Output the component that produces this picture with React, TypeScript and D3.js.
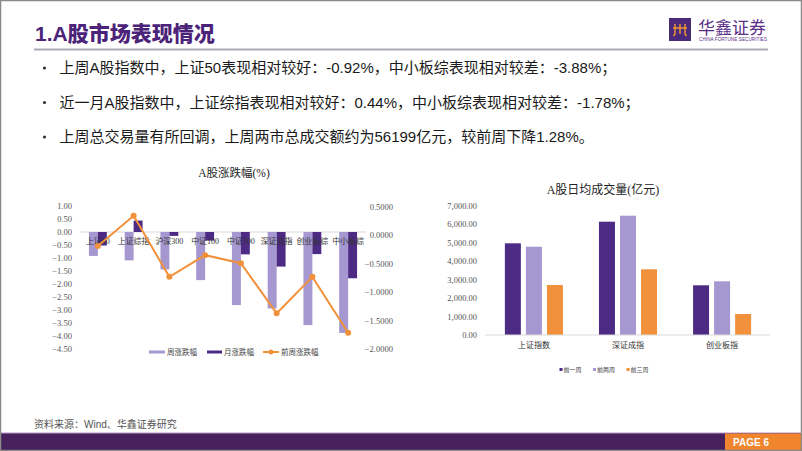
import React from 'react';
import * as d3 from 'd3';

const leftCategories = ['上证50', '上证综指', '沪深300', '中证100', '中证500', '深证成指', '创业板综', '中小板综'];
const weeklyChange = [-0.92, -1.09, -1.44, -1.85, -2.81, -2.94, -3.58, -3.88];
const monthlyChange = [-0.52, 0.44, -0.15, -0.33, -0.86, -1.33, -0.85, -1.78];
const prevWeekChange = [-0.19, 0.34, -0.73, -0.35, -0.49, -1.37, -0.73, -1.71];
const leftAxisTicks = [1, 0.5, 0, -0.5, -1, -1.5, -2, -2.5, -3, -3.5, -4, -4.5];
const rightAxisTicks = [0.5, 0, -0.5, -1, -1.5, -2];
const leftSeriesNames = ['周涨跌幅', '月涨跌幅', '前周涨跌幅'];

const volumeCategories = ['上证指数', '深证成指', '创业板指'];
const volumeWeek1 = [4975, 6148, 2697];
const volumeWeek2 = [4790, 6473, 2914];
const volumeWeek3 = [2713, 3565, 1139];
const volumeTicks = [0, 1000, 2000, 3000, 4000, 5000, 6000, 7000];
const volumeSeriesNames = ['前一周', '前两周', '前三周'];

const bullets = [
  '上周A股指数中，上证50表现相对较好：-0.92%，中小板综表现相对较差：-3.88%；',
  '近一月A股指数中，上证综指表现相对较好：0.44%，中小板综表现相对较差：-1.78%；',
  '上周总交易量有所回调，上周两市总成交额约为56199亿元，较前周下降1.28%。',
];

const DARK = '#4d2b84';
const LIGHT = '#a597cf';
const ORANGE = '#f2913b';
const SERIF = '"Liberation Serif", "DejaVu Serif", "Noto Sans CJK SC", serif';
const SANS = '"Liberation Sans", Arial, "Noto Sans CJK SC", sans-serif';

function LeftChart() {
  const yL = d3.scaleLinear().domain([-4.5, 1]).range([349, 206]);
  const yR = d3.scaleLinear().domain([-2, 0.5]).range([349.3, 206.7]);
  const x = d3.scaleBand<string>().domain(leftCategories).range([80, 366]).paddingInner(0.5).paddingOuter(0.25);
  const x1 = d3.scaleBand<string>().domain(['w', 'm']).range([0, x.bandwidth()]);
  const fmtL = d3.format('.2f');
  const fmtR = d3.format('.4f');
  const line = d3
    .line<number>()
    .x((_, i) => (x(leftCategories[i]) as number) + x.bandwidth() / 2)
    .y((d) => yR(d));
  const barRect = (c: string, key: string, v: number, color: string) => {
    const y0 = yL(0);
    const yv = yL(v);
    return (
      <rect
        key={c + key}
        x={(x(c) as number) + (x1(key) as number)}
        y={Math.min(y0, yv)}
        width={x1.bandwidth()}
        height={Math.abs(yv - y0)}
        fill={color}
      />
    );
  };
  return (
    <g>
      <text x={234} y={177} textAnchor="middle" fontFamily={SERIF} fontSize={11.5} fill="#222">
        A股涨跌幅(%)
      </text>
      {leftAxisTicks.map((t) => (
        <text key={'l' + t} x={72} y={yL(t)} dy="0.35em" textAnchor="end" fontFamily={SERIF} fontSize={8.5} fill="#555">
          {fmtL(t)}
        </text>
      ))}
      {rightAxisTicks.map((t) => (
        <text key={'r' + t} x={393} y={yR(t)} dy="0.35em" textAnchor="end" fontFamily={SERIF} fontSize={8.5} fill="#555">
          {fmtR(t)}
        </text>
      ))}
      <line x1={80} x2={366} y1={yL(0)} y2={yL(0)} stroke="#d9d9d9" strokeWidth={1} />
      {leftCategories.map((c, i) => barRect(c, 'w', weeklyChange[i], LIGHT))}
      {leftCategories.map((c, i) => barRect(c, 'm', monthlyChange[i], DARK))}
      {leftCategories.map((c) => (
        <text key={'c' + c} x={(x(c) as number) + x.bandwidth() / 2} y={241} dy="0.35em" textAnchor="middle" fontFamily={SERIF} fontSize={8} fill="#333">
          {c}
        </text>
      ))}
      <path d={line(prevWeekChange) || ''} fill="none" stroke={ORANGE} strokeWidth={2} />
      {prevWeekChange.map((v, i) => (
        <circle key={'p' + i} cx={(x(leftCategories[i]) as number) + x.bandwidth() / 2} cy={yR(v)} r={3} fill={ORANGE} />
      ))}
      {/* legend */}
      <g fontFamily={SERIF} fontSize={7.5} fill="#444">
        <line x1={149} x2={165} y1={352} y2={352} stroke={LIGHT} strokeWidth={3} />
        <text x={167} y={352} dy="0.35em">{leftSeriesNames[0]}</text>
        <line x1={207} x2={222} y1={352} y2={352} stroke={DARK} strokeWidth={3} />
        <text x={224} y={352} dy="0.35em">{leftSeriesNames[1]}</text>
        <line x1={263} x2={279} y1={352} y2={352} stroke={ORANGE} strokeWidth={2} />
        <circle cx={271} cy={352} r={2.5} fill={ORANGE} />
        <text x={281} y={352} dy="0.35em">{leftSeriesNames[2]}</text>
      </g>
    </g>
  );
}

function RightChart() {
  const y = d3.scaleLinear().domain([0, 7000]).range([335, 206]);
  const x = d3.scaleBand<string>().domain(volumeCategories).range([487, 769]).paddingInner(0.383).paddingOuter(0.19);
  const x1 = d3.scaleBand<string>().domain(volumeSeriesNames).range([0, x.bandwidth()]).paddingInner(0.24);
  const fmt = d3.format(',.2f');
  const series = [volumeWeek1, volumeWeek2, volumeWeek3];
  const colors = [DARK, LIGHT, ORANGE];
  return (
    <g>
      <text x={603} y={194} textAnchor="middle" fontFamily={SERIF} fontSize={12} fill="#222">
        A股日均成交量(亿元)
      </text>
      {volumeTicks.map((t) => (
        <text key={'v' + t} x={477} y={y(t)} dy="0.35em" textAnchor="end" fontFamily={SERIF} fontSize={8.5} fill="#555">
          {fmt(t)}
        </text>
      ))}
      {volumeCategories.map((c, ci) =>
        series.map((s, si) => (
          <rect
            key={c + si}
            x={(x(c) as number) + (x1(volumeSeriesNames[si]) as number)}
            y={y(s[ci])}
            width={x1.bandwidth()}
            height={y(0) - y(s[ci])}
            fill={colors[si]}
          />
        ))
      )}
      <line x1={485} x2={770} y1={y(0)} y2={y(0)} stroke="#d9d9d9" strokeWidth={1} />
      {volumeCategories.map((c) => (
        <text key={'vc' + c} x={(x(c) as number) + x.bandwidth() / 2} y={345} dy="0.35em" textAnchor="middle" fontFamily={SERIF} fontSize={8} fill="#333">
          {c}
        </text>
      ))}
      <g fontFamily={SERIF} fontSize={6} fill="#444">
        {volumeSeriesNames.map((n, i) => (
          <g key={n}>
            <rect x={559.5 + i * 33.5} y={368} width={3} height={3} fill={colors[i]} />
            <text x={563.5 + i * 33.5} y={369.5} dy="0.35em">{n}</text>
          </g>
        ))}
      </g>
    </g>
  );
}

export default function App() {
  return (
    <svg
      width={802}
      height={451}
      viewBox="0 0 802 451"
      style={{ position: 'absolute', left: 0, top: 0, display: 'block', background: '#fff' }}
    >
      <rect x={0} y={0} width={802} height={451} fill="#fff" />
      {/* header */}
      <text x={35} y={41} fontFamily={SANS} fontWeight={900} fontSize={21} fill="#4b2379">
        1.A股市场表现情况
      </text>
      <line x1={34} x2={768} y1={49.5} y2={49.5} stroke="#a9a9b4" strokeWidth={2} />
      {/* logo */}
      <rect x={669} y={18} width={22} height={23} fill="#4b2a7c" />
      <g stroke="#f39a2c" strokeWidth={1.4} fill="none">
        <path d="M673,28 L687,28" />
        <path d="M675,24 L675,34 L673.5,36" />
        <path d="M680,24 L680,34" />
        <path d="M685,24 L685,34 L686.5,36" />
      </g>
      <text x={698} y={34} fontFamily={SANS} fontSize={17} fill="#5a2d86">
        华鑫证券
      </text>
      <text x={699} y={40.5} fontFamily={SANS} fontSize={4.6} fill="#5a2d86" textLength={68}>
        CHINA FORTUNE SECURITIES
      </text>
      {/* bullets */}
      {bullets.map((b, i) => (
        <g key={i}>
          <circle cx={44.5} cy={68 + i * 34.5} r={1.6} fill="#333" />
          <text x={59.5} y={68 + i * 34.5} dy="0.36em" fontFamily={SANS} fontSize={15} fill="#1a1a1a">
            {b}
          </text>
        </g>
      ))}
      <LeftChart />
      <RightChart />
      {/* footer */}
      <text x={34} y={424} dy="0.35em" fontFamily={SANS} fontSize={10} fill="#555">
        资料来源：Wind、华鑫证券研究
      </text>
      <rect x={0} y={433} width={802} height={18} fill="#46215b" />
      <line x1={0} x2={802} y1={433} y2={433} stroke="#b793c4" strokeWidth={1} />
      <rect x={725} y={433.5} width={77} height={17.5} fill="#f0852d" />
      <text x={751} y={446} textAnchor="middle" fontFamily={SANS} fontWeight={700} fontSize={10} fill="#fff">
        PAGE 6
      </text>
      <rect x={0.5} y={0.5} width={801} height={450} fill="none" stroke="#8a8a8a" strokeWidth={1.5} />
    </svg>
  );
}
